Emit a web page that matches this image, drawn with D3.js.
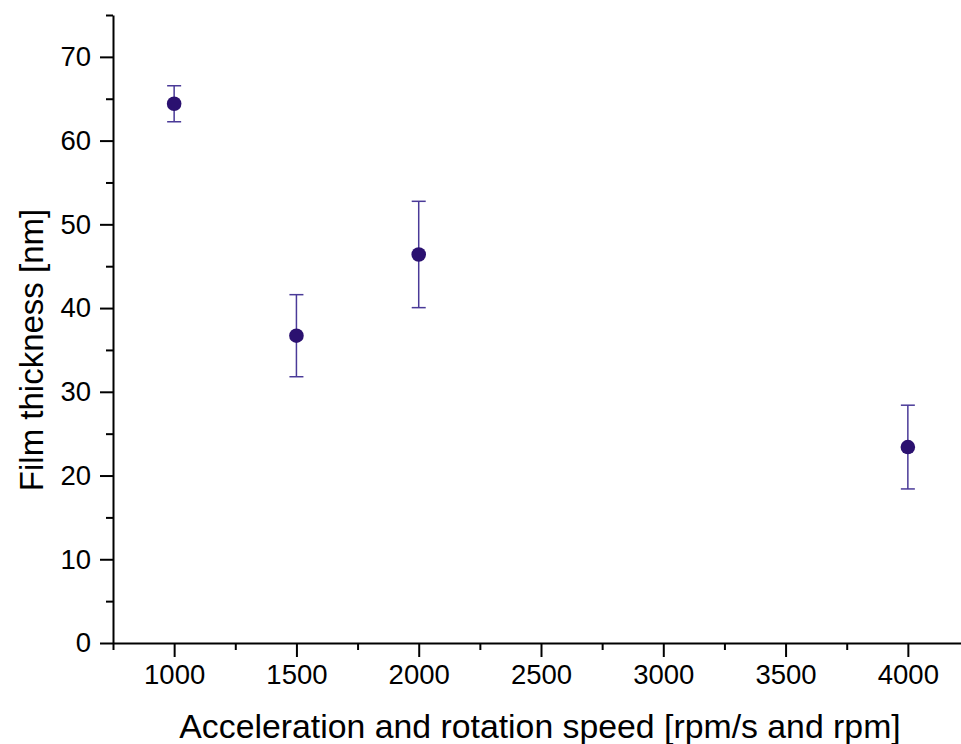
<!DOCTYPE html>
<html>
<head>
<meta charset="utf-8">
<script src="https://cdn.jsdelivr.net/npm/d3@7"></script>
<style>
  html, body { margin: 0; padding: 0; background: #ffffff; }
  svg { display: block; }
  text { font-family: "Liberation Sans", Arial, sans-serif; fill: #000; }
</style>
</head>
<body>
<svg id="chart" width="961" height="744"></svg>
<script>
// Data
const speeds = [1000, 1500, 2000, 4000];
const thickness = [64.4, 36.7, 46.4, 23.4];
const errors = [2.15, 4.9, 6.35, 5.0];

const xMajorTicks = [1000, 1500, 2000, 2500, 3000, 3500, 4000];
const xMinorTicks = [750, 1250, 1750, 2250, 2750, 3250, 3750, 4250];
const yMajorTicks = [0, 10, 20, 30, 40, 50, 60, 70];
const yMinorTicks = [5, 15, 25, 35, 45, 55, 65, 75];

const xTitle = "Acceleration and rotation speed [rpm/s and rpm]";
const yTitle = "Film thickness [nm]";

const svg = d3.select("#chart");

const x = d3.scaleLinear().domain([750, 4250]).range([113, 969]);
const y = d3.scaleLinear().domain([0, 75]).range([643, 15]);

// X axis
const gx = svg.append("g").attr("transform", `translate(0,${y(0)})`);
gx.call(d3.axisBottom(x).tickValues(xMajorTicks).tickSize(14).tickSizeOuter(0).tickPadding(7).tickFormat(d3.format("d")));
const gxm = svg.append("g").attr("transform", `translate(0,${y(0)})`);
gxm.call(d3.axisBottom(x).tickValues(xMinorTicks).tickSize(7).tickSizeOuter(0).tickFormat(""));
gxm.select(".domain").remove();

// Y axis
const gy = svg.append("g").attr("transform", `translate(${x(750)},0)`);
gy.call(d3.axisLeft(y).tickValues(yMajorTicks).tickSize(13).tickSizeOuter(0).tickPadding(9).tickFormat(d3.format("d")));
const gym = svg.append("g").attr("transform", `translate(${x(750)},0)`);
gym.call(d3.axisLeft(y).tickValues(yMinorTicks).tickSize(7).tickSizeOuter(0).tickFormat(""));
gym.select(".domain").remove();

svg.selectAll(".domain").attr("stroke", "#000").attr("stroke-width", 2);
svg.selectAll(".tick line").attr("stroke", "#000").attr("stroke-width", 2);
svg.selectAll(".tick text")
  .attr("font-family", "Liberation Sans, Arial, sans-serif")
  .attr("font-size", 27.5)
  .attr("fill", "#000");

// Error bars
const errColor = "#4a3a98";
const capHalf = 7;
const eb = svg.append("g");
speeds.forEach((s, i) => {
  const cx = x(s);
  const top = y(thickness[i] + errors[i]);
  const bot = y(thickness[i] - errors[i]);
  eb.append("line").attr("x1", cx).attr("x2", cx).attr("y1", top).attr("y2", bot)
    .attr("stroke", errColor).attr("stroke-width", 1.5);
  eb.append("line").attr("x1", cx - capHalf).attr("x2", cx + capHalf).attr("y1", top).attr("y2", top)
    .attr("stroke", errColor).attr("stroke-width", 1.5);
  eb.append("line").attr("x1", cx - capHalf).attr("x2", cx + capHalf).attr("y1", bot).attr("y2", bot)
    .attr("stroke", errColor).attr("stroke-width", 1.5);
});

// Points
svg.append("g").selectAll("circle")
  .data(speeds)
  .join("circle")
  .attr("cx", d => x(d))
  .attr("cy", (d, i) => y(thickness[i]))
  .attr("r", 7.3)
  .attr("fill", "#2b1170");

// Axis titles
svg.append("text")
  .attr("x", 540)
  .attr("y", 738)
  .attr("text-anchor", "middle")
  .attr("font-size", 33.8)
  .text(xTitle);

svg.append("text")
  .attr("transform", "translate(43,350) rotate(-90)")
  .attr("text-anchor", "middle")
  .attr("font-size", 33)
  .text(yTitle);
</script>
</body>
</html>
